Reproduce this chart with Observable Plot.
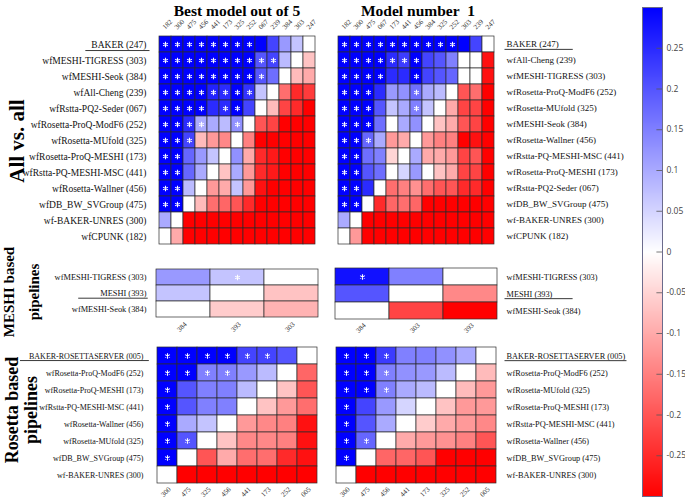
<!DOCTYPE html>
<html>
<head>
<meta charset="utf-8">
<script src="https://cdn.jsdelivr.net/npm/d3@7"></script>
<script src="https://cdn.jsdelivr.net/npm/@observablehq/plot@0.6"></script>
<style>
  body { margin: 0; background: #fff; }
  #root { position: relative; width: 685px; height: 503px; overflow: hidden; font-family: "Liberation Serif", serif; }
  .pane { position: absolute; }
  .pane svg { overflow: visible; }
  .title { position: absolute; font: bold 15.5px "Liberation Serif", serif; white-space: nowrap; transform: translateX(-50%); line-height: 20px; color: #000; }
  .vlab { position: absolute; font-weight: bold; font-family: "Liberation Serif", serif; white-space: nowrap; text-align: center; transform: translate(-50%, -50%) rotate(-90deg); color: #000; }
</style>
</head>
<body>
<div id="root"></div>
<script>
// ---------------- DATA ----------------
// All vs. all — Best model out of 5
const tlCols = ["182","300","475","456","441","173","325","252","067","239","384","303","247"];
const tlRows = ["BAKER (247)","wfMESHI-TIGRESS (303)","wfMESHI-Seok (384)","wfAll-Cheng (239)","wfRstta-PQ2-Seder (067)","wfRosetta-ProQ-ModF6 (252)","wfRosetta-MUfold (325)","wfRosetta-ProQ-MESHI (173)","wfRstta-PQ-MESHI-MSC (441)","wfRosetta-Wallner (456)","wfDB_BW_SVGroup (475)","wf-BAKER-UNRES (300)","wfCPUNK (182)"];
const tlVals = [
  [.3,.3,.3,.3,.3,.3,.3,.3,.3,.22,.12,.07,0],
  [.3,.3,.3,.3,.3,.3,.3,.3,.2,.22,.08,0,-.07],
  [.3,.3,.3,.3,.3,.3,.3,.3,.2,.17,0,-.08,-.1],
  [.3,.3,.3,.3,.26,.25,.3,.24,.07,0,-.17,-.25,-.23],
  [.3,.3,.3,.3,.25,.25,.3,.22,0,-.08,-.22,-.25,-.3],
  [.3,.3,.25,.1,.1,.08,.13,0,-.2,-.22,-.3,-.3,-.3],
  [.3,.3,.22,-.08,-.12,-.14,0,-.15,-.3,-.3,-.3,-.3,-.3],
  [.3,.3,.18,.12,.07,0,.13,-.1,-.25,-.27,-.3,-.3,-.3],
  [.3,.3,.18,.1,0,-.07,.1,-.12,-.25,-.27,-.3,-.3,-.3],
  [.3,.3,.08,0,-.12,-.1,.07,-.12,-.28,-.3,-.3,-.3,-.3],
  [.3,.3,0,-.08,-.17,-.18,-.2,-.25,-.3,-.3,-.3,-.3,-.3],
  [.1,0,-.3,-.3,-.3,-.3,-.3,-.3,-.3,-.3,-.3,-.3,-.3],
  [0,-.1,-.3,-.3,-.3,-.3,-.3,-.3,-.3,-.3,-.3,-.3,-.3]
];
const tlStars = ["1111111100000","1111111111000","1111111110000","1111111100000","1111011000000","1111001000000","1110000000000","1100000000000","1100000000000","1100000000000","1100000000000","0000000000000","0000000000000"];

// All vs. all — Model number 1
const trCols = ["182","300","475","067","173","441","456","384","325","252","303","239","247"];
const trRows = ["BAKER (247)","wfAll-Cheng (239)","wfMESHI-TIGRESS (303)","wfRosetta-ProQ-ModF6 (252)","wfRosetta-MUfold (325)","wfMESHI-Seok (384)","wfRosetta-Wallner (456)","wfRstta-PQ-MESHI-MSC (441)","wfRosetta-ProQ-MESHI (173)","wfRstta-PQ2-Seder (067)","wfDB_BW_SVGroup (475)","wf-BAKER-UNRES (300)","wfCPUNK (182)"];
const trVals = [
  [.3,.3,.3,.3,.3,.3,.3,.3,.3,.3,.3,.22,0],
  [.3,.3,.3,.3,.25,.23,.3,.22,.2,.15,0,0,-.28],
  [.3,.3,.3,.3,.25,.25,.3,.22,.2,.18,0,0,-.28],
  [.3,.3,.3,.25,.12,.13,.17,.1,.08,0,-.2,-.17,-.3],
  [.3,.3,.3,.2,.07,.1,.15,.07,0,-.1,-.22,-.22,-.3],
  [.3,.3,.3,.17,0,.1,.13,0,-.07,-.1,-.2,-.22,-.3],
  [.3,.3,.18,.1,-.12,-.1,0,-.12,-.15,-.15,-.3,-.28,-.3],
  [.3,.3,.17,.15,-.05,0,.1,-.1,-.1,-.12,-.22,-.2,-.3],
  [.3,.3,.2,.17,0,.05,.12,0,-.07,-.1,-.22,-.22,-.3],
  [.3,.3,.25,0,-.17,-.15,-.13,-.17,-.2,-.2,-.25,-.25,-.3],
  [.3,.3,0,-.25,-.18,-.17,-.18,-.3,-.3,-.3,-.3,-.3,-.3],
  [.1,0,-.3,-.3,-.3,-.3,-.3,-.3,-.3,-.3,-.3,-.3,-.3],
  [0,-.12,-.3,-.3,-.3,-.3,-.3,-.3,-.3,-.3,-.3,-.3,-.3]
];
const trStars = ["1111111111000","1111111000000","1111001000000","1110001000000","1110001000000","1110000000000","1110000000000","1100000000000","1100000000000","1100000000000","1100000000000","0000000000000","0000000000000"];

// MESHI based pipelines
const mRows = ["wfMESHI-TIGRESS (303)","MESHI (393)","wfMESHI-Seok (384)"];
const mlCols = ["384","393","303"];
const mlVals = [[.12,.07,0],[.07,0,-.07],[0,-.06,-.09]];
const mlStars = ["010","000","000"];
const mrCols = ["384","303","393"];
const mrVals = [[.28,.15,0],[.2,0,-.14],[0,-.22,-.3]];
const mrStars = ["100","000","000"];

// Rosetta based pipelines
const blCols = ["300","475","325","456","441","173","252","005"];
const blRows = ["BAKER-ROSETTASERVER (005)","wfRosetta-ProQ-ModF6 (252)","wfRosetta-ProQ-MESHI (173)","wfRstta-PQ-MESHI-MSC (441)","wfRosetta-Wallner (456)","wfRosetta-MUfold (325)","wfDB_BW_SVGroup (475)","wf-BAKER-UNRES (300)"];
const blVals = [
  [.3,.3,.3,.3,.22,.22,.2,0],
  [.3,.3,.15,.15,.12,.08,0,-.18],
  [.3,.2,.15,.15,.08,0,-.07,-.2],
  [.3,.2,.15,.15,0,-.07,-.12,-.17],
  [.3,.1,.07,0,-.12,-.14,-.15,-.28],
  [.3,.2,0,-.07,-.14,-.14,-.15,-.28],
  [.3,0,-.2,-.1,-.17,-.17,-.25,-.28],
  [0,-.3,-.3,-.3,-.3,-.3,-.3,-.3]
];
const blStars = ["11111100","11110000","10000000","10000000","10000000","11000000","10000000","00000000"];
const brCols = ["300","475","456","441","173","325","252","005"];
const brRows = ["BAKER-ROSETTASERVER (005)","wfRosetta-ProQ-ModF6 (252)","wfRosetta-MUfold (325)","wfRosetta-ProQ-MESHI (173)","wfRstta-PQ-MESHI-MSC (441)","wfRosetta-Wallner (456)","wfDB_BW_SVGroup (475)","wf-BAKER-UNRES (300)"];
const brVals = [
  [.3,.3,.23,.15,.15,.13,.1,0],
  [.3,.3,.15,.13,.12,.08,0,-.08],
  [.3,.3,.15,.1,.08,0,-.08,-.12],
  [.3,.22,.12,.05,0,-.07,-.12,-.12],
  [.3,.2,.1,0,-.06,-.1,-.12,-.14],
  [.3,.18,0,-.1,-.12,-.13,-.15,-.2],
  [.3,0,-.18,-.18,-.2,-.3,-.3,-.3],
  [0,-.3,-.3,-.3,-.3,-.3,-.3,-.3]
];
const brStars = ["11100000","11100000","11100000","10000000","10000000","11000000","10000000","00000000"];

// Colour bar
const cbTicks = [0.25,0.2,0.15,0.1,0.05,0,-0.05,-0.1,-0.15,-0.2,-0.25];
const cbTickLabels = ["0.25","0.2","0.15","0.1","0.05","0","-0.05","-0.1","-0.15","-0.2","-0.25"];

// ---------------- RENDER ----------------
const root = document.getElementById("root");
const colorOpts = {type: "linear", domain: [-0.3, 0, 0.3], range: ["#ff0000", "#ffffff", "#0000ff"], interpolate: "rgb", clamp: true};

function place(node, left, top) {
  const d = document.createElement("div");
  d.className = "pane";
  d.style.left = left + "px";
  d.style.top = top + "px";
  d.appendChild(node);
  root.appendChild(d);
  return d;
}

function heat(o) {
  const cells = [];
  o.rows.forEach((r, i) => o.cols.forEach((c, j) => cells.push({row: r, col: c, v: o.vals[i][j], s: o.stars[i][j] === "1"})));
  const svg = Plot.plot({
    width: o.width, height: o.height,
    marginLeft: o.ml, marginRight: o.mr, marginTop: o.mt, marginBottom: o.mb,
    style: {fontFamily: "'Liberation Serif', serif", fontSize: o.fs + "px", color: "#111", background: "transparent"},
    x: {type: "band", domain: o.cols, padding: 0, axis: null},
    y: {type: "band", domain: o.rows, padding: 0, axis: o.side, tickSize: 0, tickPadding: o.pad, label: null},
    color: colorOpts,
    marks: [
      Plot.cell(cells, {x: "col", y: "row", fill: "v", stroke: "#2b2b2b", strokeWidth: 0.7, inset: 0}),
      Plot.dot(cells.filter(d => d.s), {x: "col", y: "row", symbol: "asterisk", r: 2.6, stroke: "white", strokeWidth: 1.1}),
      Plot.text(o.cols, {x: d => d, text: d => d, frameAnchor: o.colPos, dy: o.colPos === "top" ? -10 : 10, rotate: -45, fontSize: 7, fill: "#333", fontFamily: "'Liberation Serif', serif"})
    ]
  });
  place(svg, o.left, o.top);
  // underline of reference pipelines
  const ul = o.underline;
  if (ul) {
    svg.querySelectorAll("text").forEach(t => {
      if (t.textContent === ul.label) {
        const b = t.getBBox();
        const m = t.getCTM();
        const sm = svg.getCTM();
        const ns = "http://www.w3.org/2000/svg";
        const line = document.createElementNS(ns, "line");
        const p = svg.createSVGPoint();
        p.x = b.x; p.y = b.y + b.height;
        const p1 = p.matrixTransform(m).matrixTransform(sm.inverse());
        p.x = b.x + b.width;
        const p2 = p.matrixTransform(m).matrixTransform(sm.inverse());
        line.setAttribute("x1", p1.x - ul.padL);
        line.setAttribute("x2", p2.x + ul.padR);
        line.setAttribute("y1", p1.y);
        line.setAttribute("y2", p1.y);
        line.setAttribute("stroke", "#222");
        line.setAttribute("stroke-width", "0.9");
        svg.appendChild(line);
      }
    });
  }
}

heat({cols: tlCols, rows: tlRows, vals: tlVals, stars: tlStars, left: 0, top: 0, width: 330, height: 250, ml: 155, mr: 11, mt: 32, mb: 3, side: "left", pad: 9, colPos: "top", fs: 9.5, underline: {label: "BAKER (247)", padL: 6, padR: 3}});
heat({cols: trCols, rows: trRows, vals: trVals, stars: trStars, left: 330, top: 0, width: 310, height: 250, ml: 4, mr: 142, mt: 32, mb: 2, side: "right", pad: 8, colPos: "top", fs: 9.0, underline: {label: "BAKER (247)", padL: 2, padR: 14}});
heat({cols: mlCols, rows: mRows, vals: mlVals, stars: mlStars, left: 0, top: 250, width: 330, height: 90, ml: 155, mr: 11, mt: 18, mb: 22, side: "left", pad: 9, colPos: "bottom", fs: 8.4, underline: {label: "MESHI (393)", padL: 22, padR: 1}});
heat({cols: mrCols, rows: mRows, vals: mrVals, stars: mrStars, left: 330, top: 250, width: 310, height: 90, ml: 4, mr: 142, mt: 18, mb: 21, side: "right", pad: 8, colPos: "bottom", fs: 8.3, underline: {label: "MESHI (393)", padL: 2, padR: 20}});
heat({cols: blCols, rows: blRows, vals: blVals, stars: blStars, left: 0, top: 340, width: 330, height: 163, ml: 155, mr: 11, mt: 7, mb: 20, side: "left", pad: 12, colPos: "bottom", fs: 8.0, underline: {label: "BAKER-ROSETTASERVER (005)", padL: 9, padR: 5}});
heat({cols: brCols, rows: brRows, vals: brVals, stars: brStars, left: 330, top: 340, width: 310, height: 163, ml: 3, mr: 142, mt: 7, mb: 20, side: "right", pad: 8, colPos: "bottom", fs: 8.3, underline: {label: "BAKER-ROSETTASERVER (005)", padL: 2, padR: 1}});

// colour bar
const cb = Plot.plot({
  width: 55, height: 503,
  marginLeft: 12, marginRight: 23, marginTop: 7, marginBottom: 7,
  style: {background: "transparent"},
  x: {domain: [0, 1], axis: null},
  y: {domain: [-0.3, 0.3], axis: null},
  color: colorOpts,
  marks: [
    Plot.raster({x1: 0, x2: 1, y1: -0.3, y2: 0.3, fill: (x, y) => y}),
    Plot.frame({stroke: "#6b6b8c", strokeWidth: 1}),
    Plot.ruleY(cbTicks, {y: d => d, x1: 0.72, x2: 1, stroke: "#555", strokeWidth: 0.8}),
    Plot.text(cbTicks, {y: d => d, x: 1, dx: 4, text: (d, i) => cbTickLabels[i], textAnchor: "start", fontSize: 8.5, fill: "#444", fontFamily: "'Open Sans', sans-serif"})
  ]
});
place(cb, 630, 0);

// titles and side labels
function addDiv(cls, html, left, top, fs, lh) {
  const d = document.createElement("div");
  d.className = cls;
  d.innerHTML = html;
  d.style.left = left + "px";
  d.style.top = top + "px";
  if (fs) d.style.fontSize = fs + "px";
  if (lh) d.style.lineHeight = lh + "px";
  root.appendChild(d);
}
addDiv("title", "Best model out of 5", 237, 1);
addDiv("title", "Model number&nbsp; 1", 418, 1);
addDiv("vlab", "All vs. all", 17, 141, 21, 24);
addDiv("vlab", "MESHI based<br>pipelines", 22, 292, 15, 25);
addDiv("vlab", "Rosetta based<br>pipelines", 22, 410, 18, 19);
</script>
</body>
</html>
